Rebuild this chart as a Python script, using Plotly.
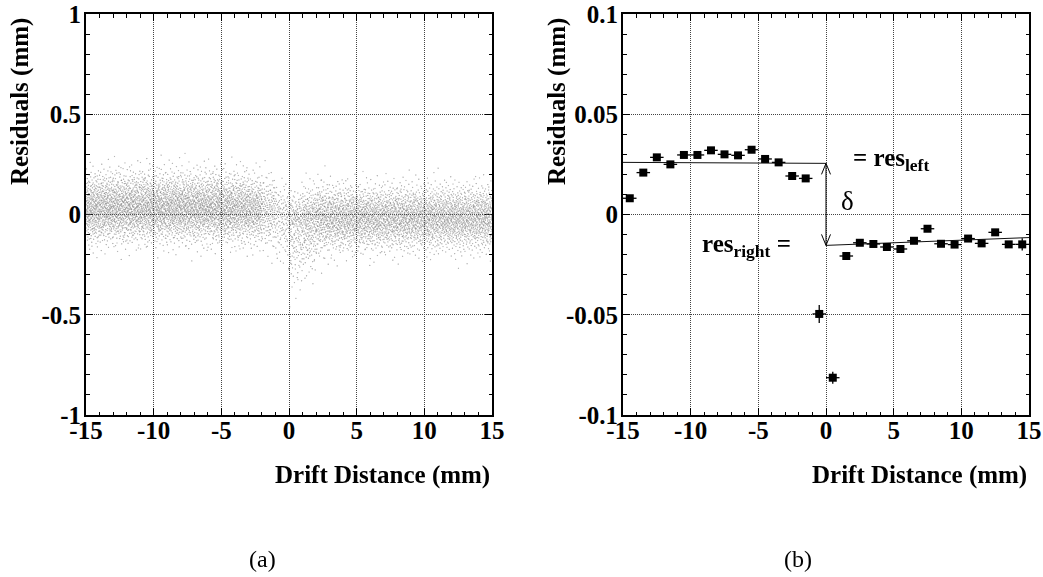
import plotly.graph_objects as go
from statistics import NormalDist

# ---------------- data ----------------
# (b) profile: mean residual per 1 mm drift-distance bin
bin_center = [-14.5, -13.5, -12.5, -11.5, -10.5, -9.5, -8.5, -7.5, -6.5, -5.5,
              -4.5, -3.5, -2.5, -1.5, -0.5, 0.5, 1.5, 2.5, 3.5, 4.5,
              5.5, 6.5, 7.5, 8.5, 9.5, 10.5, 11.5, 12.5, 13.5, 14.5]
res_mean = [0.0081, 0.0209, 0.0285, 0.0250, 0.0297, 0.0297, 0.0320, 0.0300, 0.0295, 0.0323,
            0.0277, 0.0260, 0.0192, 0.0180, -0.0496, -0.0814, -0.0207, -0.0141, -0.0147, -0.0162,
            -0.0172, -0.0131, -0.0071, -0.0146, -0.0150, -0.0120, -0.0144, -0.0089, -0.0149, -0.0149]
res_err = [0.0010, 0.0010, 0.0010, 0.0010, 0.0010, 0.0010, 0.0010, 0.0010, 0.0010, 0.0010,
           0.0010, 0.0010, 0.0010, 0.0012, 0.0045, 0.0030, 0.0012, 0.0010, 0.0010, 0.0010,
           0.0010, 0.0010, 0.0010, 0.0010, 0.0010, 0.0010, 0.0010, 0.0010, 0.0015, 0.0030]
bin_halfwidth = 0.5

# straight-line fits (end points)
fit_left_x = [-15, 0]
fit_left_y = [0.0260, 0.0255]
fit_right_x = [0, 15]
fit_right_y = [-0.0154, -0.0115]

# (a) residual cloud: per-bin centre, spread (below / above the centre) and number of hits
cloud_center = [0.030, 0.035, 0.035, 0.035, 0.035, 0.035, 0.035, 0.035, 0.035, 0.035,
                0.030, 0.030, 0.025, 0.020, -0.010, -0.050, -0.030, -0.015, -0.015, -0.015,
                -0.015, -0.015, -0.015, -0.015, -0.015, -0.015, -0.015, -0.015, -0.015, -0.015]
cloud_sig_lo = [0.085, 0.085, 0.085, 0.085, 0.085, 0.085, 0.085, 0.085, 0.085, 0.085,
                0.085, 0.085, 0.085, 0.090, 0.110, 0.150, 0.120, 0.090, 0.085, 0.080,
                0.080, 0.080, 0.080, 0.080, 0.080, 0.080, 0.080, 0.080, 0.080, 0.080]
cloud_sig_hi = [0.090, 0.090, 0.090, 0.090, 0.090, 0.090, 0.090, 0.090, 0.090, 0.090,
                0.090, 0.090, 0.085, 0.085, 0.080, 0.080, 0.085, 0.085, 0.080, 0.080,
                0.080, 0.080, 0.080, 0.080, 0.080, 0.080, 0.080, 0.080, 0.080, 0.080]
cloud_count = [280, 280, 280, 280, 280, 280, 280, 280, 280, 280,
               270, 260, 240, 160, 120, 190, 220, 230, 230, 230,
               230, 230, 230, 230, 230, 230, 230, 230, 230, 230]

x_ticks = [-15, -10, -5, 0, 5, 10, 15]
x_ticklabels = ["-15", "-10", "-5", "0", "5", "10", "15"]
y_ticks_a = [-1, -0.5, 0, 0.5, 1]
y_ticklabels_a = ["-1", "-0.5", "0", "0.5", "1"]
y_ticks_b = [-0.1, -0.05, 0, 0.05, 0.1]
y_ticklabels_b = ["-0.1", "-0.05", "0", "0.05", "0.1"]

# ---------------- place the cloud hits (Halton low-discrepancy layout of each bin's spread) ----------------
nd = NormalDist()


def radical_inverse(n, base):
    v, denom = 0.0, 1.0
    while n:
        n, rem = divmod(n, base)
        denom *= base
        v += rem / denom
    return v


cx, cy = [], []
k = 1
for c, m, slo, shi, n in zip(bin_center, cloud_center, cloud_sig_lo, cloud_sig_hi, cloud_count):
    for j in range(n):
        u = radical_inverse(k, 3) * 0.9984 + 0.0008
        z = nd.inv_cdf(u)
        cy.append(m + (slo if z < 0 else shi) * z)
        cx.append(c - 0.5 + radical_inverse(k, 2))
        k += 1

# ---------------- figure ----------------
W, H = 1043, 577
FONT = "Liberation Serif"
tickfont = dict(family=FONT, size=25, color="black", weight="bold")

fig = go.Figure()

fig.add_trace(go.Scattergl(x=cx, y=cy, mode="markers", xaxis="x", yaxis="y",
                           marker=dict(size=1.5, color="rgba(110,110,110,0.5)"),
                           hoverinfo="skip", showlegend=False))

fig.add_trace(go.Scatter(x=fit_left_x, y=fit_left_y, mode="lines", xaxis="x2", yaxis="y2",
                         line=dict(color="#111", width=1), showlegend=False))
fig.add_trace(go.Scatter(x=fit_right_x, y=fit_right_y, mode="lines", xaxis="x2", yaxis="y2",
                         line=dict(color="#111", width=1), showlegend=False))

fig.add_trace(go.Scatter(x=bin_center, y=res_mean, mode="markers", xaxis="x2", yaxis="y2",
                         marker=dict(symbol="square", size=8, color="black"),
                         error_x=dict(type="constant", value=bin_halfwidth, thickness=1.3,
                                      width=0, color="black"),
                         error_y=dict(type="data", array=res_err, thickness=1.3, width=0,
                                      color="black"),
                         showlegend=False))


def xax(domain, anchor):
    return dict(domain=domain, anchor=anchor, range=[-15, 15], tickvals=x_ticks,
                ticktext=x_ticklabels, automargin=False,
                ticks="inside", ticklen=7, tickwidth=1, tickcolor="black",
                minor=dict(dtick=1, tick0=-15, ticks="inside", ticklen=3.5, tickcolor="black",
                           showgrid=False),
                showline=True, linewidth=2, linecolor="black", mirror="allticks",
                showgrid=True, gridcolor="#444", gridwidth=1, griddash="1px,1px",
                zeroline=False, tickfont=tickfont, ticklabelstandoff=-8)


def yax(domain, anchor, rng, tv, tt, minor_dtick):
    return dict(domain=domain, anchor=anchor, range=rng, tickvals=tv, ticktext=tt,
                automargin=False,
                ticks="inside", ticklen=7, tickwidth=1, tickcolor="black",
                minor=dict(dtick=minor_dtick, tick0=rng[0], ticks="inside", ticklen=3.5,
                           tickcolor="black", showgrid=False),
                showline=True, linewidth=2, linecolor="black", mirror="allticks",
                showgrid=True, gridcolor="#444", gridwidth=1, griddash="1px,1px",
                zeroline=False, tickfont=tickfont, ticklabelstandoff=-2)


ydom = [1 - 415 / H, 1 - 14 / H]
fig.update_layout(
    width=W, height=H, margin=dict(l=0, r=0, t=0, b=0),
    paper_bgcolor="white", plot_bgcolor="white",
    xaxis=xax([86 / W, 492 / W], "y"),
    yaxis=yax(ydom, "x", [-1, 1], y_ticks_a, y_ticklabels_a, 0.1),
    xaxis2=xax([623 / W, 1029 / W], "y2"),
    yaxis2=yax(ydom, "x2", [-0.1, 0.1], y_ticks_b, y_ticklabels_b, 0.01),
    showlegend=False,
)

# delta arrow between the two fits at x = 0
fig.add_shape(type="line", xref="x2", yref="y2", x0=0, x1=0,
              y0=fit_left_y[1], y1=fit_right_y[0], line=dict(color="black", width=1))
fig.add_shape(type="path", xref="x2", yref="y2", xsizemode="pixel", ysizemode="pixel",
              xanchor=0, yanchor=fit_left_y[1], path="M -4.5,-11 L 0,0 L 4.5,-11",
              line=dict(color="black", width=1))
fig.add_shape(type="path", xref="x2", yref="y2", xsizemode="pixel", ysizemode="pixel",
              xanchor=0, yanchor=fit_right_y[0], path="M -4.5,11 L 0,0 L 4.5,11",
              line=dict(color="black", width=1))

ann_font_b = dict(family=FONT, size=25, color="black", weight="bold")
ann_font = dict(family=FONT, size=24, color="black")

fig.add_annotation(text="= res<sub>left</sub>", xref="x2", yref="y2", x=1.85, y=0.0272,
                   xanchor="left", yanchor="middle", showarrow=False, font=ann_font_b)
fig.add_annotation(text="res<sub>right</sub> =", xref="x2", yref="y2", x=-2.45, y=-0.0155,
                   xanchor="right", yanchor="middle", showarrow=False, font=ann_font_b)
fig.add_annotation(text="δ", xref="x2", yref="y2", x=1.6, y=0.0065,
                   xanchor="center", yanchor="middle", showarrow=False,
                   font=dict(family=FONT, size=27, color="black"))

for xc in (20 / W, 557 / W):
    fig.add_annotation(text="Residuals (mm)", xref="paper", yref="paper", x=xc,
                       y=1 - 102 / H, textangle=-90, xanchor="center", yanchor="middle",
                       showarrow=False, font=ann_font_b)
for xr in (492 / W, 1029 / W):
    fig.add_annotation(text="Drift Distance (mm)", xref="paper", yref="paper", x=xr,
                       y=1 - 475 / H, xanchor="right", yanchor="middle",
                       showarrow=False, font=ann_font_b)
fig.add_annotation(text="(a)", xref="paper", yref="paper", x=262 / W, y=1 - 559 / H,
                   xanchor="center", yanchor="middle", showarrow=False, font=ann_font)
fig.add_annotation(text="(b)", xref="paper", yref="paper", x=798 / W, y=1 - 559 / H,
                   xanchor="center", yanchor="middle", showarrow=False, font=ann_font)

fig.write_html("out.html")
